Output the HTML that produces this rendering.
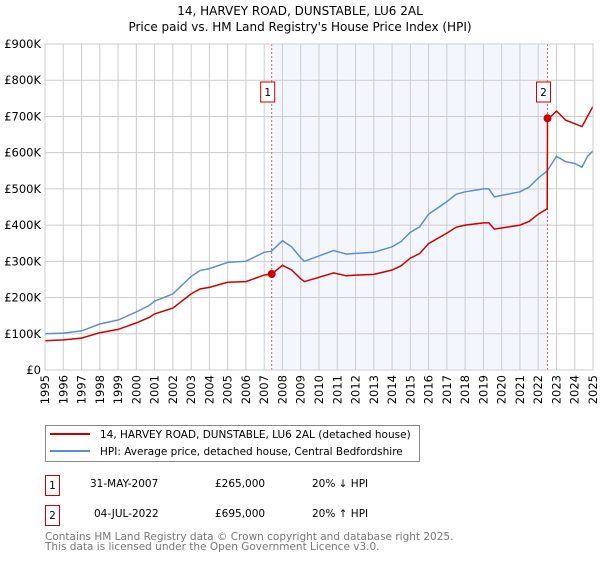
<!DOCTYPE html>
<html><head><meta charset="utf-8"><style>
body{margin:0;background:#fff;font-family:"Liberation Sans","DejaVu Sans",sans-serif}
svg text{font-family:"DejaVu Sans","Liberation Sans",sans-serif}
</style></head><body>
<svg id="c" width="600" height="560" viewBox="0 0 600 560" xmlns="http://www.w3.org/2000/svg">
<text x="300" y="15" text-anchor="middle" font-size="12">14, HARVEY ROAD, DUNSTABLE, LU6 2AL</text>
<text x="300" y="31" text-anchor="middle" font-size="12">Price paid vs. HM Land Registry's House Price Index (HPI)</text>
<g id="plot"></g>
<g>
<rect x="45.5" y="425.5" width="374" height="36" fill="#fff" stroke="#888"/>
<line x1="50" y1="434" x2="90" y2="434" stroke="#cc0000" stroke-width="2"/>
<text x="100" y="438" font-size="10.5">14, HARVEY ROAD, DUNSTABLE, LU6 2AL (detached house)</text>
<line x1="50" y1="451" x2="90" y2="451" stroke="#5b8fd0" stroke-width="2"/>
<text x="100" y="455" font-size="10.5">HPI: Average price, detached house, Central Bedfordshire</text>
</g>
<g font-size="10.5">
<rect x="45.5" y="475.5" width="14" height="20" fill="#fff" stroke="#cc0000"/><text x="52.5" y="489" text-anchor="middle">1</text>
<text x="90" y="487">31-MAY-2007</text><text x="215" y="487">£265,000</text><text x="312" y="487">20% ↓ HPI</text>
<rect x="45.5" y="505.5" width="14" height="20" fill="#fff" stroke="#cc0000"/><text x="52.5" y="519" text-anchor="middle">2</text>
<text x="94" y="517">04-JUL-2022</text><text x="215" y="517">£695,000</text><text x="312" y="517">20% ↑ HPI</text>
</g>
<text x="45" y="540" font-size="10.5" fill="#777">Contains HM Land Registry data © Crown copyright and database right 2025.</text>
<text x="45" y="550" font-size="10.5" fill="#777">This data is licensed under the Open Government Licence v3.0.</text>
</svg>
<script>
const hpiYears=[1995,1996,1997,1998,1999,2000,2000.7,2001,2002,2003,2003.5,2004,2005,2006,2007,2007.4,2008,2008.5,2009,2009.2,2010,2010.8,2011.5,2012,2013,2014,2014.5,2015,2015.5,2016,2017,2017.5,2018,2019,2019.3,2019.6,2020,2021,2021.5,2022,2022.5,2023,2023.5,2024,2024.4,2024.7,2025];
const hpiValues=[100,102,108,127,138,160,178,190,210,258,275,280,297,300,325,328,357,340,310,300,315,330,320,322,325,340,355,380,395,430,465,485,492,500,500,478,482,492,505,530,550,590,575,570,560,590,605];
const redYears=[1995,1996,1997,1998,1999,2000,2000.7,2001,2002,2003,2003.5,2004,2005,2006,2007,2007.41,2008,2008.5,2009,2009.2,2010,2010.8,2011.5,2012,2013,2014,2014.5,2015,2015.5,2016,2017,2017.5,2018,2019,2019.3,2019.6,2020,2021,2021.5,2022,2022.49,2022.51,2022.7,2023,2023.5,2024,2024.4,2024.7,2025];
const redValues=[81,83,88,103,112,130,145,155,171,210,224,228,242,244,262,265,289,276,252,244,256,268,260,262,264,276,288,309,321,349,378,394,400,406,406,389,392,400,410,430,445,695,700,715,690,680,672,700,728];
const sales=[[2007.41,265,"1"],[2022.51,695,"2"]];
const yTicks=[0,100,200,300,400,500,600,700,800,900];
const yTickLabels=["£0","£100K","£200K","£300K","£400K","£500K","£600K","£700K","£800K","£900K"];
const xTicks=[];for(let y=1995;y<=2025;y++)xTicks.push(y);
const L=45,R=593,T=44,B=370;
const X=v=>L+(v-1995)/30*(R-L), Y=v=>B-v/900*(B-T);
const g=document.getElementById('plot');const NS="http://www.w3.org/2000/svg";
function mk(t,a,p){const e=document.createElementNS(NS,t);for(const k in a)e.setAttribute(k,a[k]);(p||g).appendChild(e);return e;}
const sh=mk('rect',{x:X(sales[0][0]),y:T,width:X(sales[1][0])-X(sales[0][0]),height:B-T,fill:'#eef3fc',opacity:0.7});


yTicks.forEach((v,i)=>{const l=mk('line',{x1:L,x2:R,y1:Y(v),y2:Y(v),stroke:'#ccc'});


const t=mk('text',{x:L-4,y:Y(v)+4,'text-anchor':'end','font-size':'11.5'});t.textContent=yTickLabels[i];

});
xTicks.forEach(v=>{const l=mk('line',{x1:X(v),x2:X(v),y1:T,y2:B,stroke:'#ccc'});


const t=mk('text',{x:0,y:0,'text-anchor':'end','font-size':'11.5',transform:`translate(${X(v)+4},${B+5}) rotate(-90)`});t.textContent=v;

});
sales.forEach(s=>{const l=mk('line',{x1:X(s[0]),x2:X(s[0]),y1:T,y2:B,stroke:'#e06060','stroke-dasharray':'2,2'});


const r=mk('rect',{x:X(s[0])-11,y:82,width:14,height:20,fill:'#fff',stroke:'#cc0000'});


const t=mk('text',{x:X(s[0])-4,y:96,'text-anchor':'middle','font-size':'10.5'});t.textContent=s[2];

});
const pl=(xs,vs)=>xs.map((x,i)=>X(x).toFixed(1)+','+Y(vs[i]).toFixed(1)).join(' ');
const h=mk('polyline',{points:pl(hpiYears,hpiValues),fill:'none',stroke:'#5b8fd0','stroke-width':1.5});


const r=mk('polyline',{points:pl(redYears,redValues),fill:'none',stroke:'#cc0000','stroke-width':1.5});


sales.forEach(s=>{const c=mk('circle',{cx:X(s[0]),cy:Y(s[1]),r:4,fill:'#cc0000'});

});
const ax=mk('rect',{x:L,y:T,width:R-L,height:B-T,fill:'none',stroke:'#ccc'});


</script>
</body></html>
